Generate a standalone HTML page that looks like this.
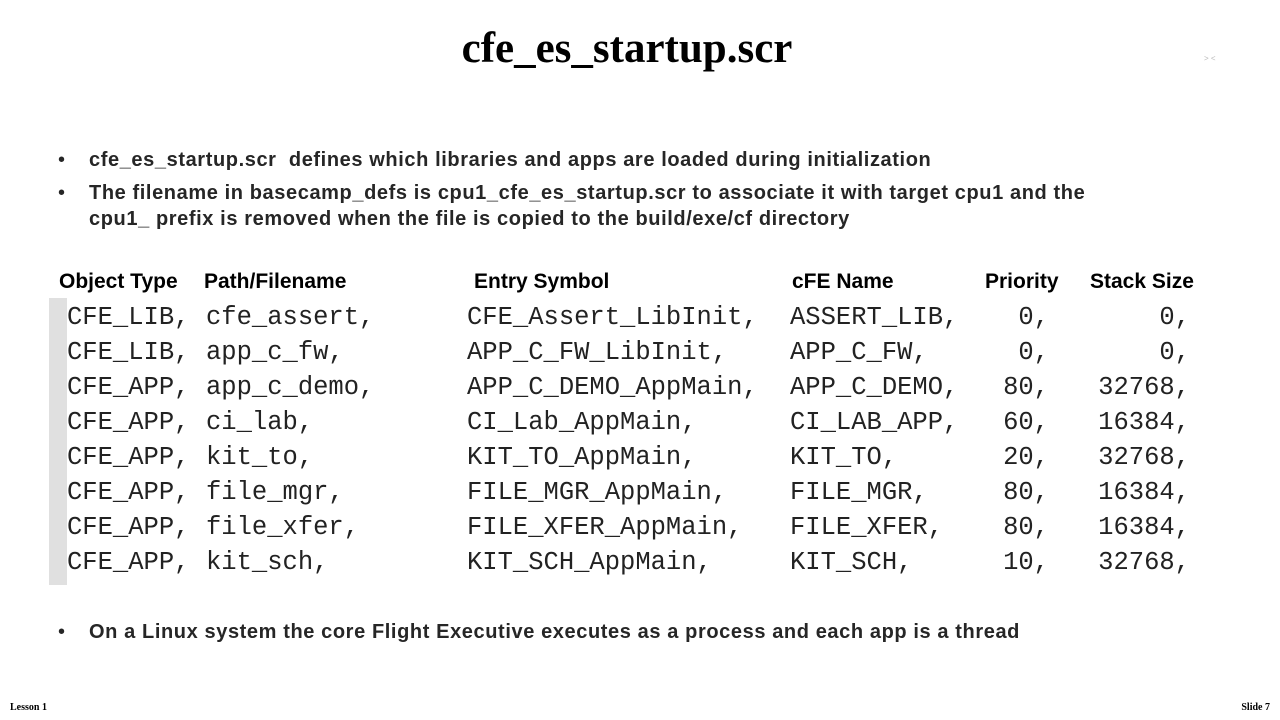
<!DOCTYPE html>
<html><head><style>
body{margin:0;width:1280px;height:720px;background:#fff;position:relative;overflow:hidden;font-family:"Liberation Sans",sans-serif}
.a{position:absolute;white-space:nowrap}
.t{left:0;width:1254px;text-align:center;top:24px;font:bold 43px "Liberation Serif",serif;color:#000}
.b{font-weight:bold;font-size:20px;letter-spacing:0.6px;color:#262626;left:89px}
.d{left:58px;font-size:20px;color:#262626}
.h{font-weight:bold;font-size:21px;color:#000;top:270px}
.m{font-family:"Liberation Mono",monospace;font-size:25.5px;color:#222;line-height:35px}
.r{text-align:right}
.f{font:bold 10px "Liberation Serif",serif;top:702px}
</style></head><body>
<div class="a t">cfe_es_startup.scr</div>
<div class="a" style="left:1204px;top:54px;font-size:8px;color:#bbb">&gt; &lt;</div>
<div class="a d" style="top:149px">•</div>
<div class="a b" style="top:149px">cfe_es_startup.scr&nbsp; defines which libraries and apps are loaded during initialization</div>
<div class="a d" style="top:182px">•</div>
<div class="a b" style="top:182px">The filename in basecamp_defs is cpu1_cfe_es_startup.scr to associate it with target cpu1 and the</div>
<div class="a b" style="top:208px">cpu1_ prefix is removed when the file is copied to the build/exe/cf directory</div>
<div class="a h" style="left:59px">Object Type</div>
<div class="a h" style="left:204px">Path/Filename</div>
<div class="a h" style="left:474px">Entry Symbol</div>
<div class="a h" style="left:792px">cFE Name</div>
<div class="a h" style="left:985px">Priority</div>
<div class="a h" style="left:1090px">Stack Size</div>
<div class="a" style="left:49px;top:298px;width:18px;height:287px;background:#e0e0e0"></div>
<div class="a m" style="left:67px;top:300px">CFE_LIB,<br>CFE_LIB,<br>CFE_APP,<br>CFE_APP,<br>CFE_APP,<br>CFE_APP,<br>CFE_APP,<br>CFE_APP,</div>
<div class="a m" style="left:206px;top:300px">cfe_assert,<br>app_c_fw,<br>app_c_demo,<br>ci_lab,<br>kit_to,<br>file_mgr,<br>file_xfer,<br>kit_sch,</div>
<div class="a m" style="left:467px;top:300px">CFE_Assert_LibInit,<br>APP_C_FW_LibInit,<br>APP_C_DEMO_AppMain,<br>CI_Lab_AppMain,<br>KIT_TO_AppMain,<br>FILE_MGR_AppMain,<br>FILE_XFER_AppMain,<br>KIT_SCH_AppMain,</div>
<div class="a m" style="left:790px;top:300px">ASSERT_LIB,<br>APP_C_FW,<br>APP_C_DEMO,<br>CI_LAB_APP,<br>KIT_TO,<br>FILE_MGR,<br>FILE_XFER,<br>KIT_SCH,</div>
<div class="a m r" style="right:231px;top:300px">0,<br>0,<br>80,<br>60,<br>20,<br>80,<br>80,<br>10,</div>
<div class="a m r" style="right:90px;top:300px">0,<br>0,<br>32768,<br>16384,<br>32768,<br>16384,<br>16384,<br>32768,</div>
<div class="a d" style="top:621px">•</div>
<div class="a b" style="top:621px">On a Linux system the core Flight Executive executes as a process and each app is a thread</div>
<div class="a f" style="left:10px">Lesson 1</div>
<div class="a f" style="right:10px">Slide 7</div>
</body></html>
